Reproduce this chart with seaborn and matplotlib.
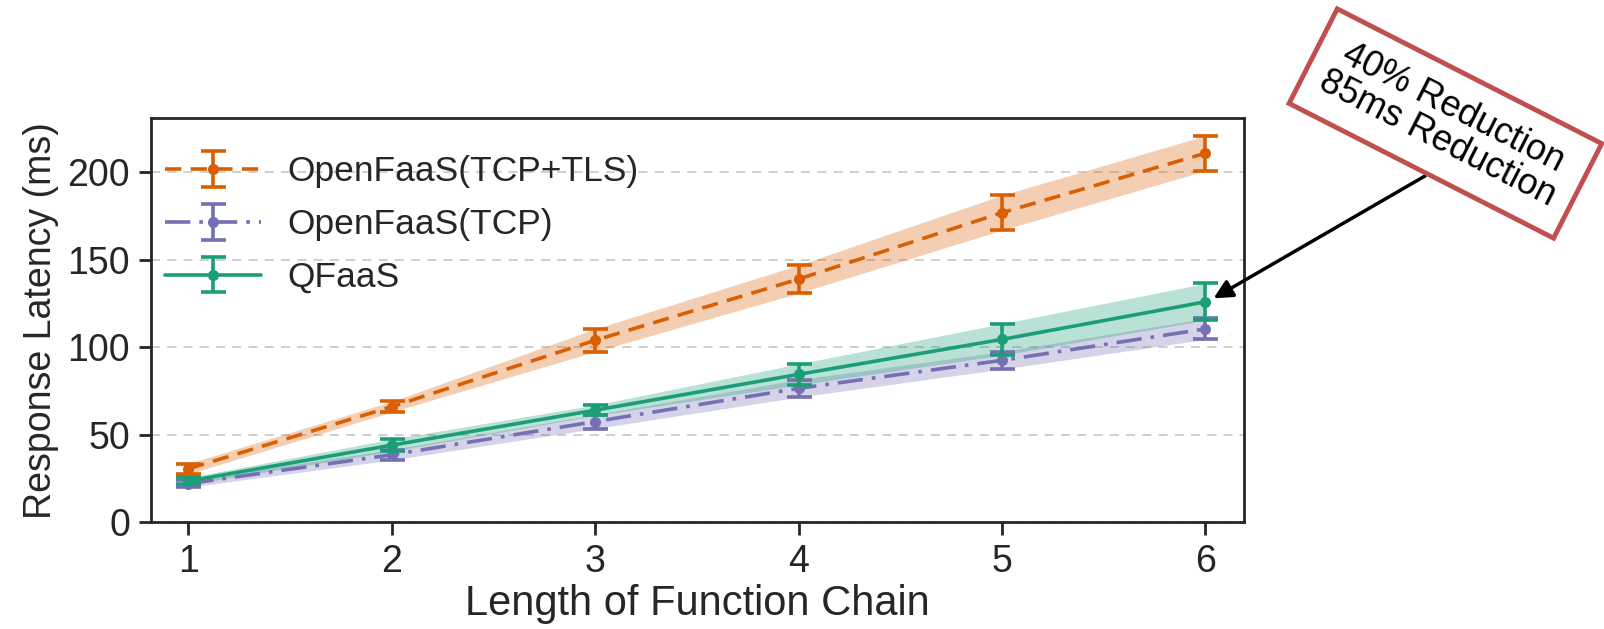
import numpy as np
import pandas as pd
import matplotlib
matplotlib.use("Agg")
import matplotlib.pyplot as plt
import seaborn as sns
from matplotlib.legend_handler import HandlerTuple

# ---- data ----
chain_len = [1, 2, 3, 4, 5, 6]
tls_mean = [30.5, 66, 104, 139, 177, 211]
tls_std = [3, 3, 6.5, 8, 10, 10]
tcp_mean = [22, 38.5, 57.5, 76.5, 92.5, 110.5]
tcp_std = [2, 3, 4, 5, 5, 6]
qfaas_mean = [23.5, 44, 64, 84.5, 104.5, 126]
qfaas_std = [2, 3.5, 3, 6, 9, 10.5]
series_names = ["OpenFaaS(TCP+TLS)", "OpenFaaS(TCP)", "QFaaS"]
y_ticks = [0, 50, 100, 150, 200]

sns.set_theme(style="ticks")
plt.rcParams['font.family'] = ['Liberation Sans', 'DejaVu Sans']

fig = plt.figure(figsize=(16.04, 6.29), dpi=100)
ax = fig.add_axes([0.094, 0.170, 0.6816, 0.642])

colors = ["#d95f02", "#7570b3", "#1b9e77"]
styles = [(0, (4.5, 2.6)), (0, (7, 2.5, 1, 2.5)), "-"]
means = [tls_mean, tcp_mean, qfaas_mean]
stds = [tls_std, tcp_std, qfaas_std]

handles = []
for name, m, s, c, ls in zip(series_names, means, stds, colors, styles):
    m = np.array(m, float); s = np.array(s, float)
    df = pd.DataFrame({"x": chain_len, "y": m})
    sns.lineplot(data=df, x="x", y="y", ax=ax, color=c, linestyle=ls, lw=2.6,
                 marker="o", markersize=8, markeredgewidth=0, legend=False)
    line = ax.lines[-1]
    ax.fill_between(chain_len, m - s, m + s, color=c, alpha=0.3, lw=0)
    eb = ax.errorbar(chain_len, m, yerr=s, fmt="none", ecolor=c, elinewidth=2.6,
                     capsize=9, capthick=2.6)
    handles.append((line, eb))

ax.set_xlim(0.815, 6.19)
ax.set_ylim(0, 231)
ax.set_xticks(chain_len)
ax.set_yticks(y_ticks)
ax.yaxis.grid(True, linestyle=(0, (5, 4)), color="#cccccc", lw=1.3)
ax.set_axisbelow(True)
for sp in ax.spines.values():
    sp.set_linewidth(2)
    sp.set_color("#262626")
ax.tick_params(axis="both", which="major", labelsize=27, length=9, width=2,
               color="#262626", labelcolor="#262626")
ax.tick_params(axis="x", pad=7)
ax.tick_params(axis="y", pad=6)
ax.set_xlabel("Length of Function Chain", fontsize=30, color="#262626", labelpad=3)
ax.set_ylabel("Response Latency (ms)", fontsize=27, color="#262626", labelpad=6)

ax.legend(handles, series_names, handler_map={tuple: HandlerTuple(ndivide=1)},
          loc="upper left", bbox_to_anchor=(0.0, 0.943), frameon=False,
          fontsize=25.5, handlelength=2.7, handletextpad=0.75, labelspacing=0.56,
          borderaxespad=0.0, labelcolor="#262626")

ax.annotate("", xy=(6.04, 128), xytext=(7.08, 198), xycoords="data",
            textcoords="data", annotation_clip=False,
            arrowprops=dict(arrowstyle="-|>", color="black", lw=2.5,
                            mutation_scale=28, shrinkA=0, shrinkB=0))
ax.text(7.18, 228, "40% Reduction\n85ms Reduction", rotation=-27,
        rotation_mode="anchor", ha="center", va="center", fontsize=26,
        color="black", linespacing=1.0, clip_on=False,
        bbox=dict(boxstyle="square,pad=0.5", fc="white", ec="#c0504d", lw=3.5))

fig.savefig("out.png", dpi=100)
